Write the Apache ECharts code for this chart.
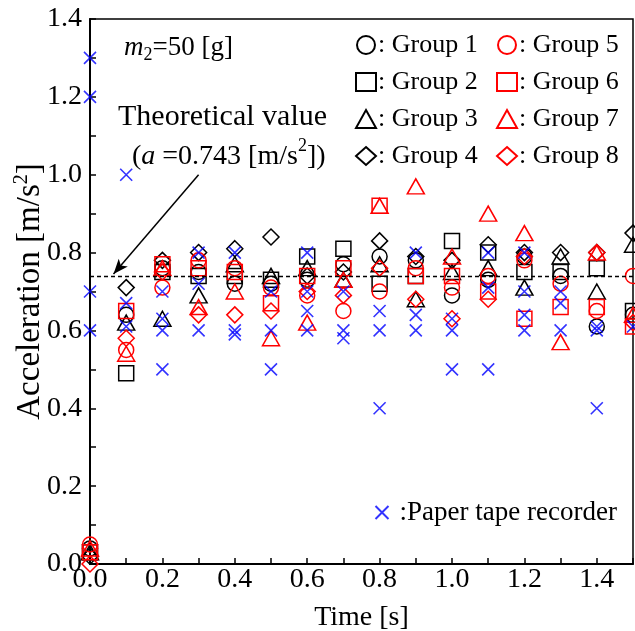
<!DOCTYPE html>
<html>
<head>
<meta charset="utf-8">
<script src="https://cdn.jsdelivr.net/npm/echarts@6/dist/echarts.min.js"></script>
<style>html,body{margin:0;padding:0;background:#fff;}#c{width:635px;height:631px;}</style>
</head>
<body>
<div id="c"></div>
<script>
const times = [0.0,0.1,0.2,0.3,0.4,0.5,0.6,0.7,0.8,0.9,1.0,1.1,1.2,1.3,1.4,1.5];
const group1 = [0.04,0.64,0.76,0.75,0.72,0.72,0.73,0.77,0.79,0.78,0.69,0.73,0.79,0.74,0.61,0.64];
const group2 = [0.03,0.49,0.75,0.74,0.74,0.73,0.79,0.81,0.72,0.74,0.83,0.80,0.75,0.75,0.76,0.65];
const group3 = [0.03,0.62,0.63,0.69,0.77,0.74,0.76,0.73,0.77,0.68,0.75,0.76,0.71,0.79,0.70,0.82];
const group4 = [0.02,0.71,0.78,0.80,0.81,0.84,0.74,0.75,0.83,0.79,0.78,0.82,0.80,0.80,0.80,0.85];
const group5 = [0.05,0.55,0.71,0.78,0.76,0.71,0.69,0.65,0.70,0.76,0.71,0.74,0.78,0.72,0.65,0.74];
const group6 = [0.03,0.65,0.77,0.76,0.75,0.67,0.74,0.76,0.92,0.74,0.74,0.70,0.63,0.66,0.66,0.61];
const group7 = [0.04,0.54,0.76,0.66,0.70,0.58,0.62,0.73,0.92,0.97,0.79,0.90,0.85,0.57,0.80,0.64];
const group8 = [0.00,0.58,0.75,0.64,0.64,0.65,0.70,0.69,0.76,0.68,0.63,0.68,0.79,null,0.80,0.62];
const tapeTimes  = [0,0,0,0, 0.1,0.1,0.1, 0.2,0.2,0.2,0.2, 0.3,0.3,0.3, 0.4,0.4,0.4, 0.5,0.5,0.5, 0.6,0.6,0.6,0.6, 0.7,0.7,0.7, 0.8,0.8,0.8, 0.9,0.9,0.9, 1.0,1.0,1.0, 1.1,1.1,1.1, 1.2,1.2,1.2,1.2, 1.3,1.3,1.3, 1.4,1.4,1.4, 1.5];
const tapeValues = [1.30,1.20,0.70,0.60, 1.00,0.67,0.61, 0.70,0.63,0.60,0.50, 0.80,0.72,0.60, 0.80,0.60,0.59, 0.70,0.60,0.50, 0.80,0.70,0.65,0.60, 0.70,0.60,0.58, 0.65,0.60,0.40, 0.80,0.64,0.60, 0.63,0.60,0.50, 0.80,0.71,0.50, 0.80,0.70,0.64,0.60, 0.70,0.67,0.60, 0.61,0.60,0.40, 0.61];
const groupNames = ['Group 1','Group 2','Group 3','Group 4','Group 5','Group 6','Group 7','Group 8'];
const theoretical = 0.743;

const FONT = 'Liberation Serif';
const groups = [group1,group2,group3,group4,group5,group6,group7,group8];
const shapes = ['circle','rect','triangle','diamond'];
const sizes = [15,15,[17,15],16];
const crossPath = 'path://M0,0L10,10M10,0L0,10';

const series = groups.map((g,i)=>({
  type:'scatter',
  name: groupNames[i],
  symbol: shapes[i%4],
  symbolSize: sizes[i%4],
  clip:false,
  z: i<4 ? 3 : 4,
  itemStyle:{color:'rgba(255,255,255,0)', borderColor: i<4 ? '#000000' : '#ff0000', borderWidth:1.5, opacity:1},
  emphasis:{disabled:true},
  data: times.map((t,j)=>[t,g[j]]).filter(d=>d[1]!==null)
}));
series[0].markLine = {
  silent:true, symbol:'none', animation:false,
  label:{show:false},
  lineStyle:{color:'#000', type:[4,3], width:1.3},
  data:[{yAxis: theoretical}]
};
series[1].markLine = {
  silent:true, symbol:['none','arrow'], symbolSize:[9,15], animation:false,
  label:{show:false},
  lineStyle:{color:'#000', type:'solid', width:1.5},
  data:[[{coord:[0.30,1.0]},{coord:[0.065,theoretical+0.002]}]]
};
series.push({
  type:'scatter', name:'Paper tape recorder', symbol: crossPath, symbolSize:12, clip:false, z:5,
  itemStyle:{color:'none', borderColor:'#0000ff', borderWidth:1.6},
  emphasis:{disabled:true},
  data: tapeTimes.map((t,j)=>[t,tapeValues[j]])
});

const legendBase = {
  orient:'vertical', itemWidth:20, itemHeight:18, itemGap:11,
  textStyle:{fontFamily:FONT, fontSize:26, color:'#000', padding:[0,0,0,-3]},
  selectedMode:false,
  formatter: n => ': ' + n
};

const chart = echarts.init(document.getElementById('c'));
chart.setOption({
  animation:false,
  backgroundColor:'#fff',
  grid:{left:90, right:2, top:19, bottom:67, show:true, borderColor:'#000', borderWidth:1.5,
        containLabel:false, outerBoundsMode:'none'},
  xAxis:{
    type:'value', min:0, max:1.5, interval:0.1,
    name:'Time [s]', nameLocation:'middle', nameGap:40, nameMoveOverlap:false,
    nameTextStyle:{fontFamily:FONT, fontSize:28, color:'#000'},
    axisLine:{lineStyle:{color:'#000', width:2}},
    axisTick:{inside:true, length:6, lineStyle:{color:'#000', width:1.5}},
    axisLabel:{fontFamily:FONT, fontSize:28, color:'#000', margin:2,
      formatter: v => (Math.round(v*10)%2===0 ? v.toFixed(1) : '')},
    splitLine:{show:false}
  },
  yAxis:{
    type:'value', min:0, max:1.4, interval:0.1,
    name:'Acceleration [m/s{sup|2}]', nameLocation:'middle', nameGap:42, nameMoveOverlap:false,
    nameTextStyle:{fontFamily:FONT, fontSize:33, color:'#000', lineHeight:36,
      rich:{sup:{fontFamily:FONT, fontSize:20, verticalAlign:'top', lineHeight:19, color:'#000'}}},
    axisLine:{lineStyle:{color:'#000', width:2}},
    axisTick:{inside:true, length:6, lineStyle:{color:'#000', width:1.5}},
    axisLabel:{fontFamily:FONT, fontSize:28, color:'#000', margin:8,
      formatter: v => (Math.round(v*10)%2===0 ? v.toFixed(1) : '')},
    splitLine:{show:false}
  },
  legend:[
    Object.assign({}, legendBase, {left:350, top:27, data:groupNames.slice(0,4)}),
    Object.assign({}, legendBase, {left:491, top:27, data:groupNames.slice(4,8)}),
    {orient:'vertical', left:368, top:494, itemWidth:13, itemHeight:13, selectedMode:false,
      textStyle:{fontFamily:FONT, fontSize:27, color:'#000', padding:[0,0,0,6]},
      formatter: n => ':' + n, data:['Paper tape recorder']}
  ],
  graphic:[
    {type:'text', left:124, top:34, z:10, style:{
      text:'{i|m}{sub|2}{t|=50 [g]}',
      rich:{
        i:{fontFamily:FONT, fontStyle:'italic', fontSize:27, color:'#000', lineHeight:34, verticalAlign:'middle'},
        sub:{fontFamily:FONT, fontSize:18, color:'#000', lineHeight:15, verticalAlign:'bottom'},
        t:{fontFamily:FONT, fontSize:27, color:'#000', lineHeight:34, verticalAlign:'middle'}
      }}},
    {type:'text', left:118, top:102, z:10, style:{text:'Theoretical value', fontFamily:FONT, fontSize:30, fill:'#000'}},
    {type:'text', left:132, top:137, z:10, style:{
      text:'{t|(}{i|a}{t| =0.743 [m/s}{sup|2}{t|])}',
      rich:{
        t:{fontFamily:FONT, fontSize:28, color:'#000', lineHeight:40, verticalAlign:'middle'},
        i:{fontFamily:FONT, fontStyle:'italic', fontSize:28, color:'#000', lineHeight:40, verticalAlign:'middle'},
        sup:{fontFamily:FONT, fontSize:18, color:'#000', lineHeight:22, verticalAlign:'top'}
      }}}
  ],
  series: series
});
</script>
</body>
</html>
